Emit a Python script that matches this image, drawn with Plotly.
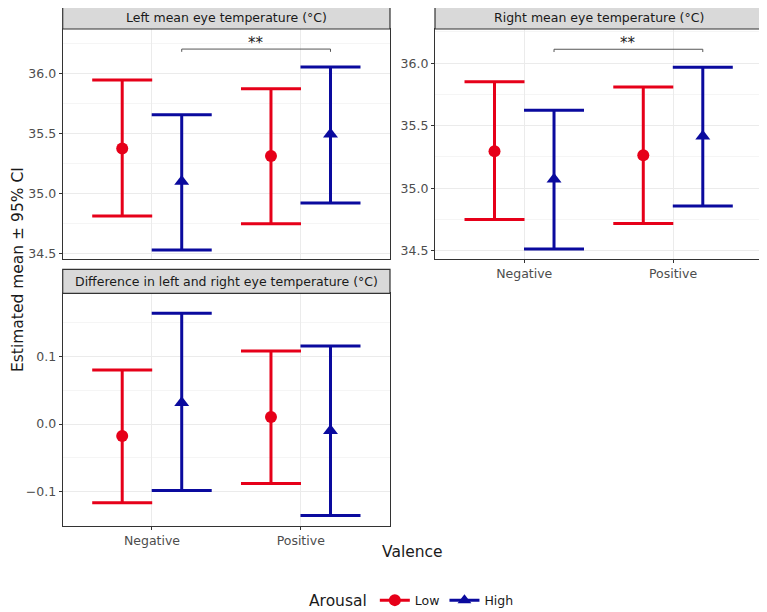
import plotly.graph_objects as go

# page offset from default HTML body margin
OFF = 8
W, H = 767 - OFF, 612 - OFF

valence = ["Negative", "Positive"]
arousal = ["Low", "High"]

panel_titles = [
    "Left mean eye temperature (°C)",
    "Right mean eye temperature (°C)",
    "Difference in left and right eye temperature (°C)",
]

# estimates [Negative, Positive]
left_low_est = [35.375, 35.314]
left_low_lo = [34.814, 34.750]
left_low_hi = [35.945, 35.872]
left_high_est = [35.100, 35.495]
left_high_lo = [34.531, 34.922]
left_high_hi = [35.656, 36.053]

right_low_est = [35.296, 35.264]
right_low_lo = [34.750, 34.718]
right_low_hi = [35.851, 35.809]
right_high_est = [35.071, 35.416]
right_high_lo = [34.514, 34.858]
right_high_hi = [35.623, 35.968]

diff_low_est = [-0.0177, 0.0103]
diff_low_lo = [-0.1162, -0.0876]
diff_low_hi = [0.0798, 0.1078]
diff_high_est = [0.0315, -0.0099]
diff_high_lo = [-0.0980, -0.1349]
diff_high_hi = [0.1635, 0.1152]

sig_label = "**"
sig_y = [36.203, 36.111]

y_ticks = [
    [34.5, 35.0, 35.5, 36.0],
    [34.5, 35.0, 35.5, 36.0],
    [-0.1, 0.0, 0.1],
]
y_ticktext = [
    ["34.5", "35.0", "35.5", "36.0"],
    ["34.5", "35.0", "35.5", "36.0"],
    ["\u22120.1", "0.0", "0.1"],
]
y_minor = [
    [34.75, 35.25, 35.75, 36.25],
    [34.75, 35.25, 35.75, 36.25],
    [-0.15, -0.05, 0.05, 0.15],
]
y_ranges = [[34.456, 36.37], [34.434, 36.273], [-0.150, 0.193]]

RED = "#E60019"
BLUE = "#0A0A9E"
FONT = "DejaVu Sans"
TICKCOL = "#4D4D4D"

panels = [
    (left_low_est, left_low_lo, left_low_hi, left_high_est, left_high_lo, left_high_hi),
    (right_low_est, right_low_lo, right_low_hi, right_high_est, right_high_lo, right_high_hi),
    (diff_low_est, diff_low_lo, diff_low_hi, diff_high_est, diff_high_lo, diff_high_hi),
]

# panel pixel boxes in page coords (x0, x1, y_top, y_bottom)
boxes = [
    (62.7, 390.0, 29.0, 259.0),
    (435.0, 762.3, 29.0, 259.0),
    (62.7, 390.0, 293.3, 525.7),
]
strip_h = 24.0


def px(x):
    return (x - OFF) / W


def py(y):
    return 1 - (y - OFF) / H


fig = go.Figure()
dodge = 0.2
xpos = [1, 2]

layout = dict(
    width=W, height=H,
    margin=dict(l=0, r=0, t=0, b=0, autoexpand=False),
    paper_bgcolor="white", plot_bgcolor="white",
    font=dict(family=FONT, size=12, color="#1A1A1A"),
    showlegend=True,
)
shapes = []
annotations = []

for i, (pan, box) in enumerate(zip(panels, boxes)):
    le, ll, lh, he, hl, hh = pan
    ax = "" if i == 0 else str(i + 1)
    xref = "x" + ax
    yref = "y" + ax
    x0, x1, yt, yb = box
    for est, lo, hi, col, sym, off in [
        (le, ll, lh, RED, "circle", -dodge),
        (he, hl, hh, BLUE, "triangle-up", dodge),
    ]:
        xs = [p + off for p in xpos]
        fig.add_trace(go.Scatter(
            x=xs, y=est, mode="markers", xaxis=xref, yaxis=yref,
            marker=dict(color=col, symbol=sym, size=12 if sym == "circle" else 13),
            error_y=dict(type="data", symmetric=False,
                         array=[h - e for h, e in zip(hi, est)],
                         arrayminus=[e - l for e, l in zip(est, lo)],
                         color=col, thickness=3, width=30),
            showlegend=False, hoverinfo="skip",
        ))
    dom_x = [px(x0), px(x1)]
    dom_y = [py(yb), py(yt)]
    layout["xaxis" + ax] = dict(
        domain=dom_x, range=[0.4, 2.6], anchor=yref, automargin=False,
        tickvals=xpos, ticktext=valence, showticklabels=(i != 0),
        ticks="outside" if i != 0 else "", ticklen=3, tickcolor="#333333",
        showgrid=True, gridcolor="#EBEBEB", gridwidth=1,
        showline=True, mirror=True, linecolor="#333333", linewidth=1.2,
        zeroline=False, tickfont=dict(size=12.5, color=TICKCOL),
    )
    layout["yaxis" + ax] = dict(
        domain=dom_y, range=y_ranges[i], anchor=xref, automargin=False,
        tickvals=y_ticks[i], ticktext=y_ticktext[i],
        ticks="outside", ticklen=3, tickcolor="#333333",
        showgrid=True, gridcolor="#EBEBEB", gridwidth=1,
        minor=dict(tickvals=y_minor[i], showgrid=True, gridcolor="#F5F5F5", gridwidth=1, ticks=""),
        showline=True, mirror=True, linecolor="#333333", linewidth=1.2,
        zeroline=False, tickfont=dict(size=12.5, color=TICKCOL),
    )
    # strip
    shapes.append(dict(type="rect", xref="paper", yref="paper",
                       x0=px(x0), x1=px(x1), y0=py(yt), y1=py(yt - strip_h),
                       fillcolor="#D9D9D9", line=dict(color="#333333", width=1.2)))
    annotations.append(dict(text=panel_titles[i], xref="paper", yref="paper",
                            x=px((x0 + x1) / 2), y=py(yt - strip_h / 2),
                            showarrow=False, xanchor="center", yanchor="middle",
                            font=dict(size=12.5, color="#1A1A1A")))
    # significance bracket
    if i < 2:
        sy = sig_y[i]
        tick = (y_ranges[i][1] - y_ranges[i][0]) * 0.012
        xa, xb = xpos[0] + dodge, xpos[1] + dodge
        shapes.append(dict(type="path", xref=xref, yref=yref,
                           path=f"M {xa},{sy - tick} L {xa},{sy} L {xb},{sy} L {xb},{sy - tick}",
                           line=dict(color="#555555", width=1)))
        annotations.append(dict(text=sig_label, xref=xref, yref=yref,
                                x=(xa + xb) / 2, y=sy, showarrow=False,
                                xanchor="center", yanchor="bottom", yshift=-5,
                                font=dict(size=15, color="#1A1A1A")))

# axis titles
annotations.append(dict(text="Valence", xref="paper", yref="paper",
                        x=px(412.5), y=py(552), showarrow=False,
                        xanchor="center", yanchor="middle",
                        font=dict(size=15.5, color="#1A1A1A")))
annotations.append(dict(text="Estimated mean \u00b1 95% CI", xref="paper", yref="paper",
                        x=px(18), y=py(270), showarrow=False, textangle=-90,
                        xanchor="center", yanchor="middle",
                        font=dict(size=15.5, color="#1A1A1A")))

# legend-only traces
for name, col, sym in [(arousal[0], RED, "circle"), (arousal[1], BLUE, "triangle-up")]:
    fig.add_trace(go.Scatter(
        x=[None], y=[None], mode="lines+markers", name=name,
        line=dict(color=col, width=3),
        marker=dict(color=col, symbol=sym, size=12),
        showlegend=True,
    ))

layout["legend"] = dict(
    orientation="h", x=px(413), xanchor="center", y=py(601), yanchor="middle",
    title=dict(text="Arousal", font=dict(size=15.5, color="#1A1A1A"), side="left"),
    font=dict(size=12.5, color="#1A1A1A"), itemwidth=30, bgcolor="rgba(0,0,0,0)",
)
layout["shapes"] = shapes
layout["annotations"] = annotations
fig.update_layout(**layout)

fig.write_html("out.html")
